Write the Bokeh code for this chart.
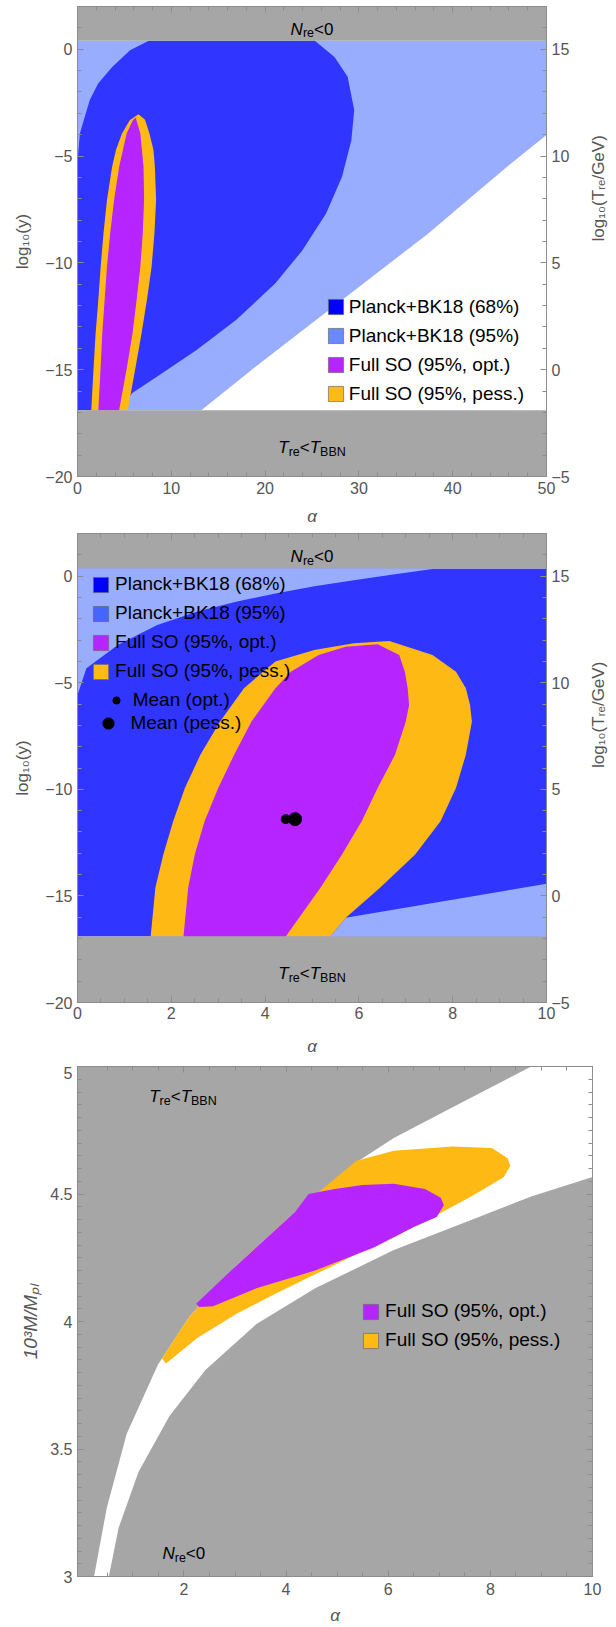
import math
from bokeh.plotting import figure
from bokeh.models import (LinearAxis, Range1d, FixedTicker, Label, Legend,
                          LegendItem, NumeralTickFormatter)
from bokeh.layouts import column
from bokeh.embed import file_html
from bokeh.resources import INLINE

NAN = float("nan")

# ---------------- data ----------------
# Panel 1 : alpha 0..50, log10(y)
p1_nre_bound = 0.4      # above: N_re < 0
p1_bbn_bound = -16.9    # below: T_re < T_BBN
p1_c95_x = [0, 50, 50, 45.8, 41.6, 37.4, 32.8, 28.2, 23.6, 18.98, 13.2, 0]
p1_c95_y = [0.4, 0.4, -4.02, -5.5, -7.06, -8.62, -10.18, -11.74, -13.3, -14.86, -16.9, -16.9]
p1_c68_x = [0, 0, 0.25, 1.3, 2.2, 3.7, 5.6, 7.6, 25.3, 27.4, 28.8, 29.5, 29.2, 28.2,
            26.5, 24.0, 21.1, 16.9, 12.7, 8.5, 5.8, 4.7]
p1_c68_y = [-16.9, -5.3, -3.94, -2.39, -1.6, -0.83, -0.05, 0.4, 0.4, -0.36, -1.29, -2.85,
            -4.26, -5.97, -7.69, -9.4, -10.96, -12.67, -14.08, -15.32, -16.1, -16.9]
p1_pess_x = [6.5, 7.2, 7.67, 8.1, 8.25, 8.38, 8.2, 7.9, 7.4, 6.83, 6.2, 5.36, 1.47, 1.72,
             1.93, 2.22, 2.47, 2.77, 3.14, 3.69, 4.1, 4.74, 5.57]
p1_pess_y = [-3.04, -3.3, -3.94, -4.72, -5.5, -7.06, -8.62, -10.18, -11.74, -13.3, -14.86,
             -16.9, -16.9, -14.86, -13.3, -11.74, -10.18, -8.62, -7.06, -5.5, -4.72, -3.94, -3.32]
p1_opt_x = [6.2, 6.7, 7.04, 7.1, 6.96, 6.7, 6.3, 5.87, 5.28, 4.44, 2.22, 2.47, 2.64, 2.89,
            3.14, 3.48, 3.9, 4.44, 5.24, 5.9]
p1_opt_y = [-3.2, -3.94, -5.5, -7.06, -8.62, -10.18, -11.74, -13.3, -14.86, -16.9, -16.9,
            -14.86, -13.3, -11.74, -10.18, -8.62, -7.06, -5.5, -3.94, -3.32]

# Panel 2 : alpha 0..10, log10(y)
p2_nre_bound = 0.36
p2_bbn_bound = -16.9
p2_c95a_x = [0, 7.65, 6.73, 5.89, 5.05, 4.22, 3.38, 2.54, 1.7, 0.86, 0.19, 0]
p2_c95a_y = [0.36, 0.36, 0.08, -0.19, -0.47, -0.81, -1.2, -1.67, -2.29, -3.23, -4.32, -5.57]
p2_c95b_x = [5.39, 5.72, 10, 10]
p2_c95b_y = [-16.9, -16.02, -14.43, -16.9]
p2_pess_x = [6.65, 7.57, 8.07, 8.28, 8.37, 8.41, 8.28, 8.07, 7.74, 7.2, 6.45, 5.72, 5.39,
             1.56, 1.66, 1.83, 2.04, 2.29, 2.62, 3.04, 3.55, 3.96, 4.22, 5.05, 5.89]
p2_pess_y = [-3.04, -3.7, -4.48, -5.26, -6.04, -6.82, -8.38, -9.94, -11.5, -13.06, -14.62,
             -16.02, -16.9, -16.9, -14.62, -13.06, -11.5, -9.94, -8.38, -6.82, -5.26, -4.48,
             -4.0, -3.46, -3.15]
p2_opt_x = [6.4, 6.86, 6.98, 7.04, 7.07, 7.0, 6.77, 6.4, 6.06, 5.64, 5.18, 4.44, 2.26, 2.36,
            2.5, 2.71, 3.0, 3.34, 3.71, 4.22, 4.55, 5.14, 5.72]
p2_opt_y = [-3.2, -3.7, -4.48, -5.26, -6.04, -6.82, -8.38, -9.94, -11.5, -13.06, -14.62,
            -16.9, -16.9, -14.62, -13.06, -11.5, -9.94, -8.38, -6.82, -5.26, -4.48, -3.7, -3.31]
mean_opt_x, mean_opt_y = [4.44], [-11.4]
mean_pess_x, mean_pess_y = [4.64], [-11.4]

# Panel 3 : alpha 0..10, 10^3 M/M_pl
p3_up_x = [0.24, 0.49, 0.88, 1.49, 2.11, 3.03, 4.18, 5.34, 6.11, 7.26, 8.8]
p3_up_y = [3.0, 3.27, 3.56, 3.83, 4.02, 4.22, 4.43, 4.62, 4.72, 4.84, 5.0]
p3_lo_x = [0.53, 0.72, 1.11, 1.72, 2.42, 3.42, 4.57, 6.11, 7.65, 8.8, 10]
p3_lo_y = [3.0, 3.19, 3.41, 3.63, 3.81, 3.99, 4.13, 4.28, 4.40, 4.49, 4.567]
p3_pess_x = [1.57, 2.11, 3.03, 4.18, 5.38, 6.11, 7.26, 8.03, 8.34, 8.39, 8.26, 7.65, 6.88,
             6.11, 5.34, 4.57, 3.8, 3.03, 2.26, 1.8, 1.65]
p3_pess_y = [3.855, 4.02, 4.22, 4.43, 4.63, 4.67, 4.686, 4.68, 4.64, 4.61, 4.566, 4.493,
             4.41, 4.33, 4.26, 4.185, 4.11, 4.03, 3.935, 3.86, 3.835]
p3_opt_x = [2.24, 3.03, 4.18, 4.44, 4.95, 5.5, 6.11, 6.72, 7.03, 7.09, 6.95, 6.49, 5.72,
            4.57, 3.42, 2.57, 2.3]
p3_opt_y = [4.07, 4.22, 4.43, 4.5, 4.52, 4.535, 4.54, 4.52, 4.485, 4.456, 4.41, 4.37, 4.29,
            4.20, 4.13, 4.06, 4.057]

lab_68 = "Planck+BK18 (68%)"
lab_95 = "Planck+BK18 (95%)"
lab_opt = "Full SO (95%, opt.)"
lab_pess = "Full SO (95%, pess.)"
lab_mopt = "Mean (opt.)"
lab_mpess = "Mean (pess.)"
x_label = "\u03b1"
y_label_left = "log\u2081\u2080(y)"
y_label_right = "log\u2081\u2080(T\u1d63\u2091/GeV)"
y_label_mass = "10\u00b3M/M\u209a\u2097"

# ---------------- style ----------------
GRAY = "#A6A6A6"
DARK = "#3036FF"
LIGHT = "#99ADFF"
PURP = "#B624FF"
ORNG = "#FFB914"
AXC = "#8C8C8C"
TXT = "#555555"
FONT = "Liberation Sans"

W = {'N': .722, 'T': .611, 'r': .333, 'e': .556, '<': .584, '0': .556, 'B': .667}


def tw(s, size):
    return sum(W.get(c, .556) for c in s) * size


def comp(p, x, y, pieces, align="center"):
    total = sum(tw(t, s) for t, s, _, _ in pieces)
    off = -total / 2 if align == "center" else 0
    for t, s, it, dy in pieces:
        p.add_layout(Label(x=x, y=y, text=t, x_offset=off, y_offset=dy, text_font=FONT,
                           text_font_size=f"{s}px",
                           text_font_style="italic" if it else "normal",
                           text_align="left", text_baseline="alphabetic",
                           text_color="black"))
        off += tw(t, s)


def NRE(p, x, y, align="center"):
    comp(p, x, y, [("N", 17, True, -2), ("re", 12.5, False, -6), ("<0", 17, False, -2)], align)


def TBBN(p, x, y, align="center"):
    comp(p, x, y, [("T", 17, True, -2), ("re", 12.5, False, -6), ("<", 17, False, -2),
                   ("T", 17, True, -2), ("BBN", 12.5, False, -6)], align)


def base_fig(fw, fh, xr, yr, bl, br, bt, bb):
    p = figure(frame_width=fw, frame_height=fh, x_range=Range1d(*xr), y_range=Range1d(*yr),
               output_backend="svg", toolbar_location=None,
               min_border_left=bl, min_border_right=br, min_border_top=bt,
               min_border_bottom=bb)
    p.grid.visible = False
    p.outline_line_color = AXC
    p.background_fill_color = "white"
    return p


def fmt_axis(ax, ticks, minor, overrides=None, standoff=5, label=None, lstand=5,
             italic=False, lsize="17px"):
    ax.ticker = FixedTicker(ticks=ticks, minor_ticks=minor)
    ax.axis_line_color = AXC
    ax.major_tick_line_color = AXC
    ax.minor_tick_line_color = AXC
    ax.major_tick_in = 6
    ax.major_tick_out = 0
    ax.minor_tick_in = 4
    ax.minor_tick_out = 0
    ax.major_label_text_font = FONT
    ax.major_label_text_color = TXT
    ax.major_label_text_font_size = "16px"
    ax.major_label_standoff = standoff
    if overrides:
        ax.major_label_overrides = overrides
    if label:
        ax.axis_label = label
        ax.axis_label_standoff = lstand
        ax.axis_label_text_font = FONT
        ax.axis_label_text_color = TXT
        ax.axis_label_text_font_size = lsize
        ax.axis_label_text_font_style = "italic" if italic else "normal"


def tick_only(p, side, major, minor, **kw):
    # frame ticks without labels: two label-free axes (short and long ticks)
    for pos, ln in ((minor, 4), (major, 6)):
        ax = LinearAxis(**kw)
        ax.ticker = FixedTicker(ticks=[], minor_ticks=pos)
        ax.axis_line_color = AXC
        ax.minor_tick_line_color = AXC
        ax.minor_tick_in = ln
        ax.minor_tick_out = 0
        ax.major_tick_in = 0
        ax.major_tick_out = 0
        ax.major_label_standoff = 0
        p.add_layout(ax, side)


def add_legend(p, entries, loc, glyph=19, standoff=4, lh=26):
    items = [LegendItem(label=l, renderers=[r]) for l, r in entries]
    lg = Legend(items=items, location=loc, glyph_width=glyph, glyph_height=glyph,
                label_standoff=standoff, spacing=3, padding=0, margin=0,
                label_height=lh, label_text_font=FONT, label_text_font_size="19px",
                label_text_color="black", background_fill_alpha=0, border_line_alpha=0)
    p.add_layout(lg)


def swatch(p, color):
    return p.quad(left=[NAN], right=[NAN], top=[NAN], bottom=[NAN], fill_color=color,
                  line_color="#6a6a6a", line_alpha=0.7, line_width=1)


neg = {-20: "\u221220", -15: "\u221215", -10: "\u221210", -5: "\u22125"}
ly_ticks = [-20, -15, -10, -5, 0]
ly_minor = list(range(-20, 3))
ry_ticks = [-5, 0, 5, 10, 15]
ry_minor = list(range(-5, 18))


def log_panel(fh, bt, bb, xmax, xticks, xminor, x_standoff, xl_standoff):
    p = base_fig(469, fh, (0, xmax), (-20, 2), 77, 70, bt, bb)
    fmt_axis(p.xaxis[0], xticks, xminor, standoff=x_standoff, label=x_label,
             lstand=xl_standoff, italic=True)
    fmt_axis(p.yaxis[0], ly_ticks, ly_minor, overrides=neg, label=y_label_left, lstand=10)
    tick_only(p, "above", xticks, xminor)
    p.extra_y_ranges = {"r": Range1d(-5, 17)}
    rax = LinearAxis(y_range_name="r")
    fmt_axis(rax, ry_ticks, ry_minor, overrides={-5: "\u22125"}, label=y_label_right,
             lstand=26)
    rax.axis_label_orientation = math.pi / 2
    p.add_layout(rax, "right")
    return p


# ---------------- panel 1 ----------------
p1 = log_panel(470, 6, 57, 50, [0, 10, 20, 30, 40, 50], list(range(0, 51, 2)), 5, 10)
p1.patch(p1_c95_x, p1_c95_y, fill_color=LIGHT, line_alpha=0)
p1.patch(p1_c68_x, p1_c68_y, fill_color=DARK, line_alpha=0)
p1.patch(p1_pess_x, p1_pess_y, fill_color=ORNG, line_alpha=0)
p1.patch(p1_opt_x, p1_opt_y, fill_color=PURP, line_alpha=0)
p1.quad(left=[0], right=[50], bottom=[p1_nre_bound], top=[2], fill_color=GRAY, line_alpha=0)
p1.quad(left=[0], right=[50], bottom=[-20], top=[p1_bbn_bound], fill_color=GRAY, line_alpha=0)
NRE(p1, 25, 1.04)
TBBN(p1, 25, -18.55)
add_legend(p1, [(lab_68, swatch(p1, "#0000FF")), (lab_95, swatch(p1, "#6A88FF")),
                (lab_opt, swatch(p1, "#B624FF")), (lab_pess, swatch(p1, "#FFBB14"))],
           (248.8, 69.3))

# ---------------- panel 2 ----------------
p2 = log_panel(469, 0, 64, 10, [0, 2, 4, 6, 8, 10], [i * 0.5 for i in range(21)], 4, 15)
p2.quad(left=[0], right=[10], bottom=[p2_bbn_bound], top=[p2_nre_bound], fill_color=DARK,
        line_alpha=0)
p2.patch(p2_c95a_x, p2_c95a_y, fill_color=LIGHT, line_alpha=0)
p2.patch(p2_c95b_x, p2_c95b_y, fill_color=LIGHT, line_alpha=0)
p2.patch(p2_pess_x, p2_pess_y, fill_color=ORNG, line_alpha=0)
p2.patch(p2_opt_x, p2_opt_y, fill_color=PURP, line_alpha=0)
p2.quad(left=[0], right=[10], bottom=[p2_nre_bound], top=[2], fill_color=GRAY, line_alpha=0)
p2.quad(left=[0], right=[10], bottom=[-20], top=[p2_bbn_bound], fill_color=GRAY, line_alpha=0)
r_mo = p2.scatter(mean_opt_x, mean_opt_y, size=9, color="black")
r_mp = p2.scatter(mean_pess_x, mean_pess_y, size=13, color="black")
NRE(p2, 5, 1.0)
TBBN(p2, 5, -18.55)
add_legend(p2, [(lab_68, swatch(p2, "#0000FF")), (lab_95, swatch(p2, "#4466FF")),
                (lab_opt, swatch(p2, "#B624FF")), (lab_pess, swatch(p2, "#FFBB14"))],
           (14.1, 318), standoff=5)
add_legend(p2, [(lab_mopt, r_mo)], (29.7, 289.4), glyph=18, standoff=8)
add_legend(p2, [(lab_mpess, r_mp)], (17.4, 265.1), glyph=28, standoff=8, lh=28)

# ---------------- panel 3 ----------------
x3_ticks = [2, 4, 6, 8, 10]
x3_minor = [i * 0.5 for i in range(1, 21)]
y3_ticks = [3, 3.5, 4, 4.5, 5]
y3_minor = [3 + i * 0.05 for i in range(41)]
# frame shares the 77px left border of the panels above; alpha = 0 sits 4px inside it
p3 = base_fig(515, 510, (-0.084, 10), (3, 5), 77, 25, 0, 51)
p3.background_fill_color = GRAY
fmt_axis(p3.xaxis[0], x3_ticks, x3_minor, standoff=6, label=x_label, lstand=8, italic=True)
fmt_axis(p3.yaxis[0], y3_ticks, y3_minor, label=y_label_mass, lstand=6, italic=True,
         lsize="19px")
p3.yaxis[0].formatter = NumeralTickFormatter(format="0.[0]")
tick_only(p3, "above", x3_ticks, x3_minor)
tick_only(p3, "right", y3_ticks, y3_minor)
band_x = p3_up_x + [10] + p3_lo_x[::-1]
band_y = p3_up_y + [5] + p3_lo_y[::-1]
p3.patch(band_x, band_y, fill_color="white", line_alpha=0)
p3.patch(p3_pess_x, p3_pess_y, fill_color=ORNG, line_alpha=0)
p3.patch(p3_opt_x, p3_opt_y, fill_color=PURP, line_alpha=0)
TBBN(p3, 1.32, 4.889, align="left")
NRE(p3, 1.58, 3.098, align="left")
add_legend(p3, [(lab_opt, swatch(p3, "#B624FF")), (lab_pess, swatch(p3, "#FFBB14"))],
           (284.1, 223), standoff=5)

layout = column(p1, p2, p3)
open("out.html", "w").write(file_html(layout, INLINE))
